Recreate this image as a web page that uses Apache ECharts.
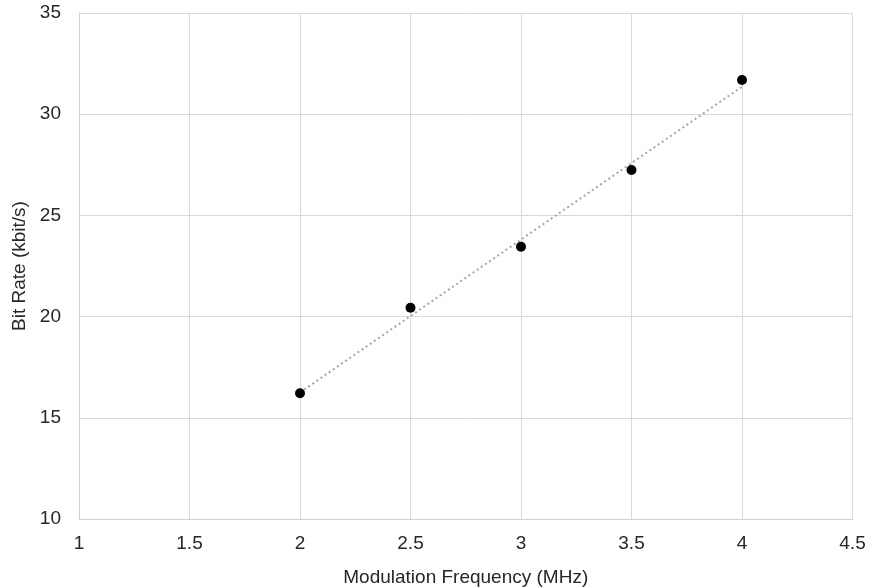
<!DOCTYPE html>
<html>
<head>
<meta charset="utf-8">
<script src="https://cdn.jsdelivr.net/npm/echarts@6/dist/echarts.min.js"></script>
<style>html,body{margin:0;padding:0;background:#fff}#c{width:870px;height:588px}</style>
</head>
<body>
<div id="c"></div>
<script>
const freqMHz = [2, 2.5, 3, 3.5, 4];
const bitRate = [16.21, 20.44, 23.45, 27.24, 31.69];
const trendX = [2, 4];
const trendY = [16.25, 31.36];

const chart = echarts.init(document.getElementById('c'));
const font = '"Liberation Sans", Arial, sans-serif';
chart.setOption({
  animation: false,
  grid: { left: 79, right: 17.5, top: 13, bottom: 69, containLabel: false, outerBoundsMode: 'none' },
  xAxis: {
    type: 'value', min: 1, max: 4.5, interval: 0.5,
    name: 'Modulation Frequency (MHz)', nameLocation: 'middle', nameGap: 49,
    nameTextStyle: { fontFamily: font, fontSize: 19, color: '#262626' },
    axisLine: { show: true, lineStyle: { color: '#d0d0d0', width: 1 } },
    axisTick: { show: false },
    axisLabel: { fontFamily: font, fontSize: 19, color: '#262626', margin: 15 },
    splitLine: { show: true, lineStyle: { color: '#d9d9d9', width: 1 } }
  },
  yAxis: {
    type: 'value', min: 10, max: 35, interval: 5,
    name: 'Bit Rate (kbit/s)', nameLocation: 'middle', nameGap: 47,
    nameTextStyle: { fontFamily: font, fontSize: 19, color: '#262626' },
    axisLine: { show: true, lineStyle: { color: '#d0d0d0', width: 1 } },
    axisTick: { show: false },
    axisLabel: { fontFamily: font, fontSize: 19, color: '#262626', margin: 18 },
    splitLine: { show: true, lineStyle: { color: '#d9d9d9', width: 1 } }
  },
  series: [
    {
      type: 'line',
      data: trendX.map((x, i) => [x, trendY[i]]),
      showSymbol: false, symbol: 'none',
      lineStyle: { color: '#a6a6a6', width: 2, type: [2, 3] },
      z: 1
    },
    {
      type: 'scatter',
      data: freqMHz.map((x, i) => [x, bitRate[i]]),
      symbol: 'circle', symbolSize: 10,
      itemStyle: { color: '#000', opacity: 1 },
      z: 2
    }
  ]
});
</script>
</body>
</html>
